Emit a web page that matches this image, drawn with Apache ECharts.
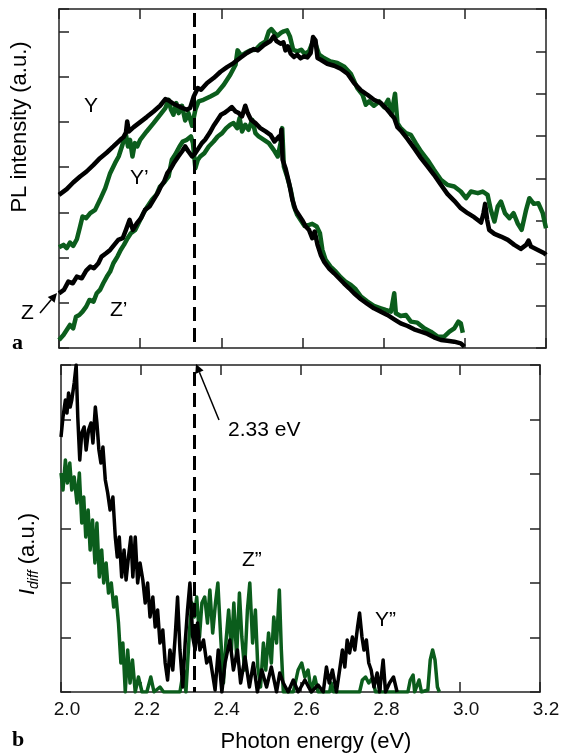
<!DOCTYPE html>
<html><head><meta charset="utf-8">
<script src="https://cdn.jsdelivr.net/npm/echarts@6/dist/echarts.min.js"></script>
<style>html,body{margin:0;padding:0;background:#fff}#c{width:563px;height:756px}</style>
</head><body><div id="c"></div>
<script>
// ---- Panel a: PL intensity (a.u.) ----
const yX = [2.000,2.019,2.035,2.052,2.068,2.085,2.101,2.118,2.134,2.151,2.159,2.165,2.168,2.172,2.184,2.200,2.216,2.233,2.249,2.262,2.270,2.282,2.299,2.315,2.323,2.332,2.342,2.350,2.365,2.381,2.398,2.414,2.430,2.447,2.463,2.480,2.490,2.505,2.521,2.529,2.536,2.546,
  2.553,2.558,2.564,2.571,2.579,2.587,2.595,2.604,2.612,2.620,2.626,2.632,2.637,2.645,2.661,2.678,2.694,2.711,2.727,2.744,2.760,2.776,2.793,2.809,2.826,2.834,2.842,2.859,2.875,2.892,2.908,2.924,2.941,2.957,2.974,2.990,3.007,3.023,3.040,3.046,3.050,3.055,3.060,3.073,3.089,3.106,3.122,3.138,3.151,3.157,3.163,3.180,3.196,3.200];
const yV = [459,476,496,514,529,549,569,586,604,624,632,646,679,649,662,677,692,709,726,746,742,732,722,714,719,754,779,774,794,809,828,842,854,870,884,896,892,908,920,934,920,912,
  916,892,904,882,872,879,868,874,871,884,932,922,869,864,852,846,837,822,794,772,759,744,734,714,689,662,652,626,599,569,544,519,489,462,441,419,404,392,376,404,432,384,354,342,334,324,309,297,309,322,304,294,284,279];
const ypX = [2.000,2.011,2.019,2.027,2.035,2.044,2.052,2.058,2.067,2.077,2.089,2.101,2.114,2.126,2.138,2.147,2.155,2.160,2.165,2.170,2.175,2.181,2.187,2.193,2.200,2.216,2.233,2.249,2.262,2.270,2.276,2.282,2.289,2.295,2.303,2.311,2.319,2.328,2.336,2.344,2.356,2.373,2.389,2.406,2.422,2.435,2.440,2.449,2.459,2.472,2.484,2.496,2.509,2.517,2.523,2.531,2.539,2.546,
  2.554,2.562,2.569,2.577,2.587,2.597,2.605,2.616,2.628,2.641,2.653,2.669,2.686,2.702,2.719,2.735,2.748,2.756,2.764,2.776,2.789,2.801,2.811,2.819,2.828,2.834,2.842,2.855,2.867,2.879,2.892,2.908,2.924,2.941,2.957,2.974,2.990,3.003,3.015,3.032,3.044,3.056,3.064,3.073,3.081,3.089,3.099,3.110,3.120,3.130,3.140,3.151,3.159,3.170,3.181,3.192,3.200];
const ypV = [302,309,299,316,306,326,364,394,389,404,414,444,479,524,554,574,604,624,639,604,624,574,614,604,624,649,674,699,719,744,714,699,734,704,726,682,704,666,714,739,744,754,764,789,819,849,892,876,884,892,894,909,919,949,956,944,936,944,
  949,952,934,894,889,894,882,889,926,879,869,859,854,844,822,779,759,729,739,726,739,722,744,699,762,674,659,644,639,614,589,564,534,504,489,484,469,449,469,464,469,459,414,379,424,439,404,389,404,374,354,414,449,432,434,404,359];
const zX = [2.000,2.012,2.023,2.034,2.044,2.056,2.067,2.077,2.086,2.097,2.105,2.116,2.126,2.136,2.146,2.157,2.165,2.174,2.182,2.192,2.202,2.212,2.223,2.233,2.243,2.251,2.259,2.267,2.276,2.284,2.294,2.303,2.311,2.319,2.328,2.336,2.344,2.352,2.360,2.371,2.381,2.391,2.399,2.407,2.418,2.426,2.435,2.443,2.451,2.459,2.465,2.473,2.484,2.496,2.509,2.521,2.531,2.542,2.546,
  2.548,2.551,2.558,2.567,2.575,2.583,2.591,2.599,2.608,2.616,2.624,2.630,2.637,2.645,2.653,2.665,2.678,2.690,2.702,2.715,2.727,2.744,2.760,2.776,2.793,2.809,2.826,2.842,2.859,2.875,2.892,2.908,2.924,2.941,2.957,2.974,2.990,2.999];
const zV = [164,174,199,194,214,209,232,244,239,254,274,284,294,309,324,329,354,384,354,374,389,414,424,444,464,484,499,524,539,556,574,589,604,589,574,584,599,614,624,644,666,684,699,704,714,722,709,704,694,726,704,684,674,659,649,639,619,634,624,
  654,564,539,494,444,414,399,384,364,354,329,349,309,279,259,239,224,209,194,179,164,146,132,119,109,99,86,74,66,56,49,42,32,24,22,19,14,4];
const zpX = [2.000,2.011,2.019,2.027,2.035,2.042,2.050,2.058,2.067,2.075,2.085,2.093,2.101,2.109,2.118,2.126,2.134,2.144,2.152,2.160,2.169,2.177,2.188,2.198,2.208,2.218,2.229,2.240,2.249,2.259,2.270,2.278,2.286,2.297,2.305,2.315,2.325,2.330,2.336,2.342,2.348,2.358,2.369,2.381,2.391,2.402,2.412,2.422,2.430,2.439,2.445,2.451,2.459,2.467,2.476,2.484,2.492,2.505,2.517,2.529,2.539,2.546,
  2.550,2.554,2.562,2.571,2.579,2.587,2.595,2.605,2.616,2.624,2.635,2.643,2.649,2.657,2.669,2.682,2.694,2.706,2.719,2.731,2.744,2.760,2.776,2.793,2.805,2.818,2.826,2.830,2.842,2.855,2.867,2.883,2.900,2.916,2.933,2.949,2.962,2.974,2.984,2.990,2.995];
const zpV = [24,39,54,69,59,94,99,109,124,144,139,164,174,194,214,229,254,274,294,309,329,344,354,379,404,424,444,459,484,496,514,564,579,604,619,624,634,614,539,564,574,584,604,619,634,644,659,669,674,659,689,649,669,654,684,644,634,624,614,594,574,614,
  659,544,514,474,424,399,384,366,369,372,364,344,294,264,244,229,212,199,189,176,154,139,126,119,114,109,164,104,96,99,79,76,59,49,34,34,49,59,79,74,46];

// ---- Panel b: I_diff (a.u.) ----
const dBlackX = [2.000,2.005,2.011,2.015,2.019,2.023,2.027,2.033,2.038,2.042,2.047,2.052,2.058,2.063,2.069,2.075,2.080,2.086,2.090,2.095,2.100,2.105,2.111,2.117,2.123,2.130,2.136,2.141,2.146,2.152,2.158,2.163,2.169,2.175,2.180,2.186,2.192,2.198,2.205,2.211,2.217,2.223,2.230,2.236,2.242,2.248,2.255,2.261,2.267,2.273,2.280,2.286,2.292,2.298,2.305,2.311,2.317,2.323,2.330,2.336,2.342,2.348,2.357,2.365,2.373,2.386,2.394,2.403,2.411,2.423,2.432,2.442,2.450,2.461,2.472,2.482,2.492,2.503,2.515,2.527,2.540,2.548,
  2.557,2.569,2.582,2.594,2.611,2.627,2.644,2.657,2.665,2.672,2.680,2.690,2.698,2.705,2.711,2.717,2.723,2.730,2.736,2.743,2.748,2.754,2.759,2.765,2.771,2.777,2.784,2.792,2.798,2.807,2.813,2.823,2.833,2.842];
const dBlackV = [255,275,292,279,299,285,292,309,327,275,232,259,265,242,262,269,249,285,269,242,229,245,212,199,182,195,155,135,155,115,142,112,135,155,115,155,109,129,112,89,109,75,95,65,82,49,62,29,12,42,22,55,95,42,5,49,82,109,55,42,69,42,52,29,35,2,42,0,29,52,22,42,9,35,5,29,0,22,5,25,0,19,
  9,0,12,0,12,0,7,0,25,9,22,0,22,42,25,52,39,55,42,65,79,55,42,52,29,22,5,19,0,32,0,9,15,0];
const dGreenX = [2.000,2.005,2.011,2.016,2.022,2.027,2.033,2.040,2.046,2.052,2.057,2.062,2.068,2.073,2.079,2.085,2.090,2.096,2.102,2.107,2.113,2.119,2.126,2.132,2.138,2.144,2.150,2.155,2.161,2.167,2.173,2.179,2.186,2.194,2.203,2.215,2.225,2.233,2.248,2.257,2.298,2.307,2.313,2.322,2.328,2.334,2.340,2.347,2.353,2.360,2.367,2.373,2.380,2.387,2.393,2.400,2.407,2.413,2.420,2.427,2.433,2.440,2.447,2.453,2.460,2.467,2.473,2.480,2.487,2.493,2.500,2.507,2.513,2.520,2.527,2.533,2.540,2.547,
  2.552,2.557,2.582,2.594,2.603,2.611,2.619,2.627,2.636,2.644,2.673,2.677,2.683,2.748,2.755,2.763,2.771,2.780,2.788,2.869,2.875,2.882,2.886,2.897,2.903,2.919,2.925,2.931,2.937,2.943,2.948];
const dGreenV = [219,202,232,209,229,202,215,189,219,169,195,155,182,142,172,129,169,115,142,109,129,99,109,85,95,69,29,49,0,42,9,32,0,15,0,0,15,0,5,0,0,22,0,62,89,75,95,55,89,95,69,102,59,89,109,55,9,49,82,42,89,35,99,55,22,82,109,49,82,25,5,49,22,59,29,75,49,102,
  42,0,0,22,29,15,22,0,15,0,0,9,0,0,12,15,9,14,0,0,12,17,0,12,0,2,32,42,32,5,0];

const xTickLabels = ['2.0','2.2','2.4','2.6','2.8','3.0','3.2'];
const markEnergy = 2.333;

const FONT = '"Liberation Sans", Arial, Helvetica, sans-serif';
const SERIF = '"Liberation Serif", "Times New Roman", serif';
const GREEN = '#0b5d1c';
const AX = '#222';

function pairs(xs, vs){ return xs.map((x,i)=>[x, vs[i]]); }

function xAx(grid, pos, labels){
  return {type:'value', gridIndex:grid, position:pos, min:2.0, max:3.2, interval:0.2,
    axisLine:{show:true, onZero:false, lineStyle:{color:AX, width:1.5}},
    axisTick:{show:true, inside:true, length:10, lineStyle:{color:AX, width:1.5}},
    axisLabel:{show:labels, fontSize:19, color:'#111', fontFamily:FONT, margin:8, padding:[0,0,0,12],
      formatter: v => xTickLabels[Math.round((v-2.0)/0.2)] || ''},
    splitLine:{show:false}};
}
function yAx(grid, pos, max, interval){
  return {type:'value', gridIndex:grid, position:pos, min:0, max:max, interval:interval,
    axisLine:{show:true, onZero:false, lineStyle:{color:AX, width:1.5}},
    axisTick:{show:true, inside:true, length:10, lineStyle:{color:AX, width:1.5}},
    axisLabel:{show:false}, splitLine:{show:false}};
}
function line(name, xs, vs, color, w, xi, yi, extra){
  return Object.assign({type:'line', name:name, xAxisIndex:xi, yAxisIndex:yi, data:pairs(xs,vs),
    showSymbol:false, symbol:'none', animation:false, silent:true, clip:true,
    lineStyle:{color:color, width:w, join:'round'}}, extra||{});
}
function dashMark(top){
  return {markLine:{silent:true, symbol:['none','none'], animation:false, label:{show:false},
    lineStyle:{color:'#000', width:3, type:[14,7]},
    data:[[{coord:[markEnergy, top]},{coord:[markEnergy, 0]}]]}};
}
function txt(text, x, y, size, align, extra){
  return Object.assign({type:'text', x:x, y:y, z:100, silent:true,
    style:{text:text, fontSize:size, fontFamily:FONT, fill:'#000', align:align||'left', verticalAlign:'middle'}}, extra||{});
}
function arrow(x1,y1,x2,y2){
  const dx=x2-x1, dy=y2-y1, L=Math.hypot(dx,dy), ux=dx/L, uy=dy/L, nx=-uy, ny=ux;
  const hl=9, hw=4.5, bx=x2-ux*hl, by=y2-uy*hl;
  return [
    {type:'line', z:100, silent:true, shape:{x1:x1,y1:y1,x2:bx,y2:by}, style:{stroke:'#000', lineWidth:1.5}},
    {type:'polygon', z:100, silent:true, shape:{points:[[x2,y2],[bx+nx*hw,by+ny*hw],[bx-nx*hw,by-ny*hw]]}, style:{fill:'#000'}}
  ];
}

const chart = echarts.init(document.getElementById('c'), null, {renderer:'canvas'});
chart.setOption({
  animation:false,
  backgroundColor:'#fff',
  grid:[{left:59, top:9, width:487, height:339}, {left:61, top:365, width:479, height:327}],
  xAxis:[xAx(0,'bottom',false), xAx(0,'top',false), xAx(1,'bottom',true), xAx(1,'top',false)],
  yAxis:[yAx(0,'left',1016,135.47), yAx(0,'right',1016,127), yAx(1,'left',327,54.5), yAx(1,'right',327,54.5)],
  series:[
    line("Y'", ypX, ypV, GREEN, 4.5, 0, 0),
    line("Z'", zpX, zpV, GREEN, 4.5, 0, 0),
    line('Y', yX, yV, '#000', 4.5, 0, 0),
    line('Z', zX, zV, '#000', 4.5, 0, 0, dashMark(1004)),
    line('diff green', dGreenX, dGreenV, GREEN, 3.5, 2, 2),
    line('diff black', dBlackX, dBlackV, '#000', 3.5, 2, 2, dashMark(320))
  ],
  graphic:[
    txt('PL intensity (a.u.)', 20, 127, 22, 'center', {rotation:Math.PI/2}),
    {type:'text', x:28, y:554, rotation:Math.PI/2, z:100, silent:true,
      style:{text:'{i|I}{s|diff}{n| (a.u.)}', fill:'#000', align:'center', verticalAlign:'middle',
        rich:{i:{fontSize:22, fontStyle:'italic', fontFamily:FONT},
              s:{fontSize:14, fontStyle:'italic', fontFamily:FONT, padding:[12,0,0,0]},
              n:{fontSize:22, fontFamily:FONT}}}},
    txt('Photon energy (eV)', 316, 742, 22, 'center'),
    txt('Y', 91, 106, 21, 'center'),
    txt('Y\u2019', 130, 178, 21, 'left'),
    txt('Z', 21, 313, 21, 'left'),
    txt('Z\u2019', 110, 310, 21, 'left'),
    txt('2.33 eV', 228, 430, 21, 'left'),
    txt('Z\u201D', 242, 560, 21, 'left'),
    txt('Y\u201D', 375, 620, 21, 'left'),
    {type:'text', x:12, y:343, z:100, silent:true, style:{text:'a', fontSize:22, fontWeight:'bold', fontFamily:SERIF, fill:'#000', verticalAlign:'middle'}},
    {type:'text', x:12, y:740, z:100, silent:true, style:{text:'b', fontSize:22, fontWeight:'bold', fontFamily:SERIF, fill:'#000', verticalAlign:'middle'}},
    ...arrow(40,313,57,293),
    ...arrow(219,420,196,364)
  ]
});
</script></body></html>
